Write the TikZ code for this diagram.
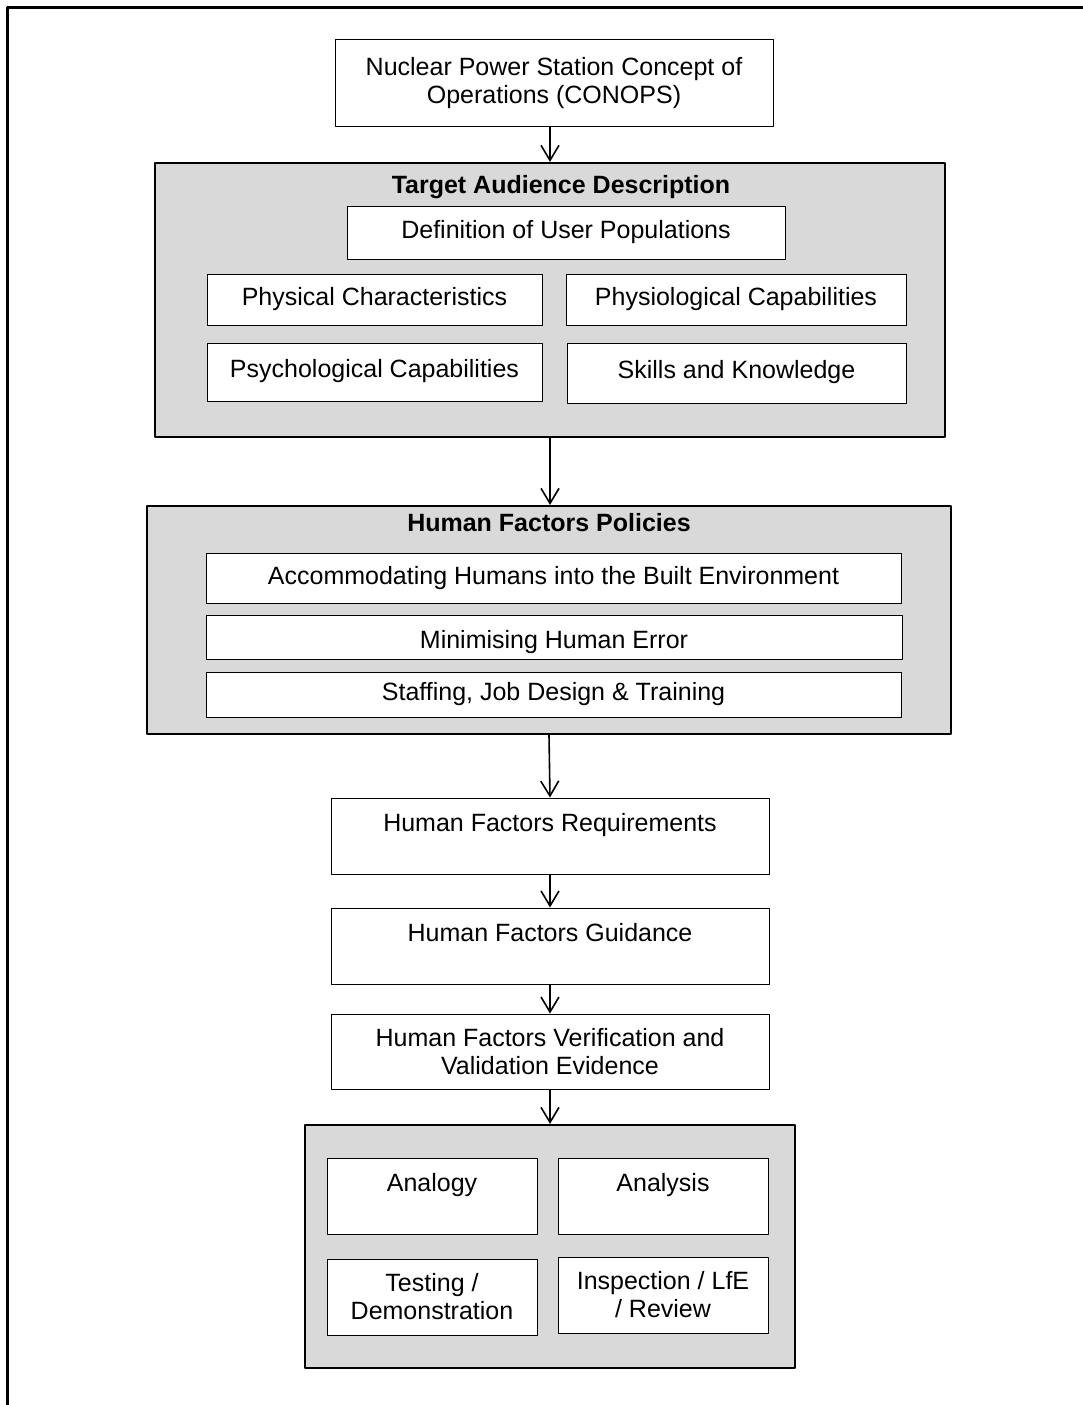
\documentclass[tikz,border=0pt]{standalone}
\usepackage{fontspec}
\setmainfont{Liberation Sans}
\usetikzlibrary{arrows.meta,positioning,calc}
\definecolor{panelgray}{HTML}{D9D9D9}
\newcommand\boxfont{\fontsize{25}{28}\selectfont}
\tikzset{
  box/.style={draw, fill=white, line width=1pt, inner sep=2pt, align=center, font=\boxfont},
  toptext/.style={text height=18pt, text depth=28pt},
  panel/.style={draw, fill=panelgray, line width=2.2pt, inner sep=0pt},
  paneltitle/.style={font=\bfseries\boxfont, anchor=north, inner sep=0pt},
  arr/.style={-{Straight Barb[length=15pt,width=18pt]}, line width=1.6pt}
}
\begin{document}
\begin{tikzpicture}[x=1pt, y=-1pt, line join=round]
\useasboundingbox (0,0) rectangle (1083,1405);
\draw[line width=3pt] (7,1430) |- (1110,8);

\node[box, minimum width=438pt, minimum height=86pt] (conops) at (554,83) {Nuclear Power Station Concept of\\Operations (CONOPS)};

\node[panel, minimum width=790pt, minimum height=274pt,
  label={[paneltitle, xshift=11pt, yshift=-13pt]north:Target Audience Description}] (tad) at (550,300) {};
\node[box, minimum width=438pt, minimum height=53pt] (users) at (566,232.5) {Definition of User Populations};
\node[box, minimum width=335pt, minimum height=51pt] (phys) at (374.5,299.5) {Physical Characteristics};
\node[box, minimum width=340pt, minimum height=51pt] (physio) at (736,299.5) {Physiological Capabilities};
\node[box, minimum width=335pt, minimum height=58pt, text height=18pt, text depth=8pt] (psych) at (374.5,372) {Psychological Capabilities};
\node[box, minimum width=339pt, minimum height=60pt, text height=18pt, text depth=8pt] (skills) at (736.5,373) {Skills and Knowledge};

\node[panel, minimum width=804pt, minimum height=228pt,
  label={[paneltitle, yshift=-8pt]north:Human Factors Policies}] (hfp) at (549,620) {};
\node[box, minimum width=695pt, minimum height=50pt] (accom) at (553.5,578) {Accommodating Humans into the Built Environment};
\node[box, minimum width=696pt, minimum height=44pt, text height=22pt, text depth=0pt] (minerr) at (554,637) {Minimising Human Error};
\node[box, minimum width=695pt, minimum height=45pt] (staff) at (553.5,694.5) {Staffing, Job Design \& Training};

\node[box, toptext, minimum width=438pt, minimum height=76pt] (req) at (550,836) {Human Factors Requirements};
\node[box, toptext, minimum width=438pt, minimum height=76pt] (guid) at (550,946) {Human Factors Guidance};
\node[box, minimum width=438pt, minimum height=75pt] (vv) at (550,1051.5) {Human Factors Verification and\\Validation Evidence};

\node[panel, minimum width=490pt, minimum height=243pt] (ev) at (550,1246.5) {};
\node[box, toptext, minimum width=210pt, minimum height=76pt] (analogy) at (432,1196) {Analogy};
\node[box, toptext, minimum width=210pt, minimum height=76pt] (analysis) at (663,1196) {Analysis};
\node[box, minimum width=210pt, minimum height=76pt] (test) at (432,1297) {Testing /\\Demonstration};
\node[box, minimum width=210pt, minimum height=76pt] (insp) at (663,1295) {Inspection / LfE\\/ Review};

\draw[arr] (tad.north |- conops.south) -- (tad.north);
\draw[arr] (tad.south) -- (tad.south |- hfp.north);
\draw[arr] (hfp.south) -- (req.north);
\draw[arr] (req) -- (guid);
\draw[arr] (guid) -- (vv);
\draw[arr] (vv) -- (ev);
\end{tikzpicture}
\end{document}
